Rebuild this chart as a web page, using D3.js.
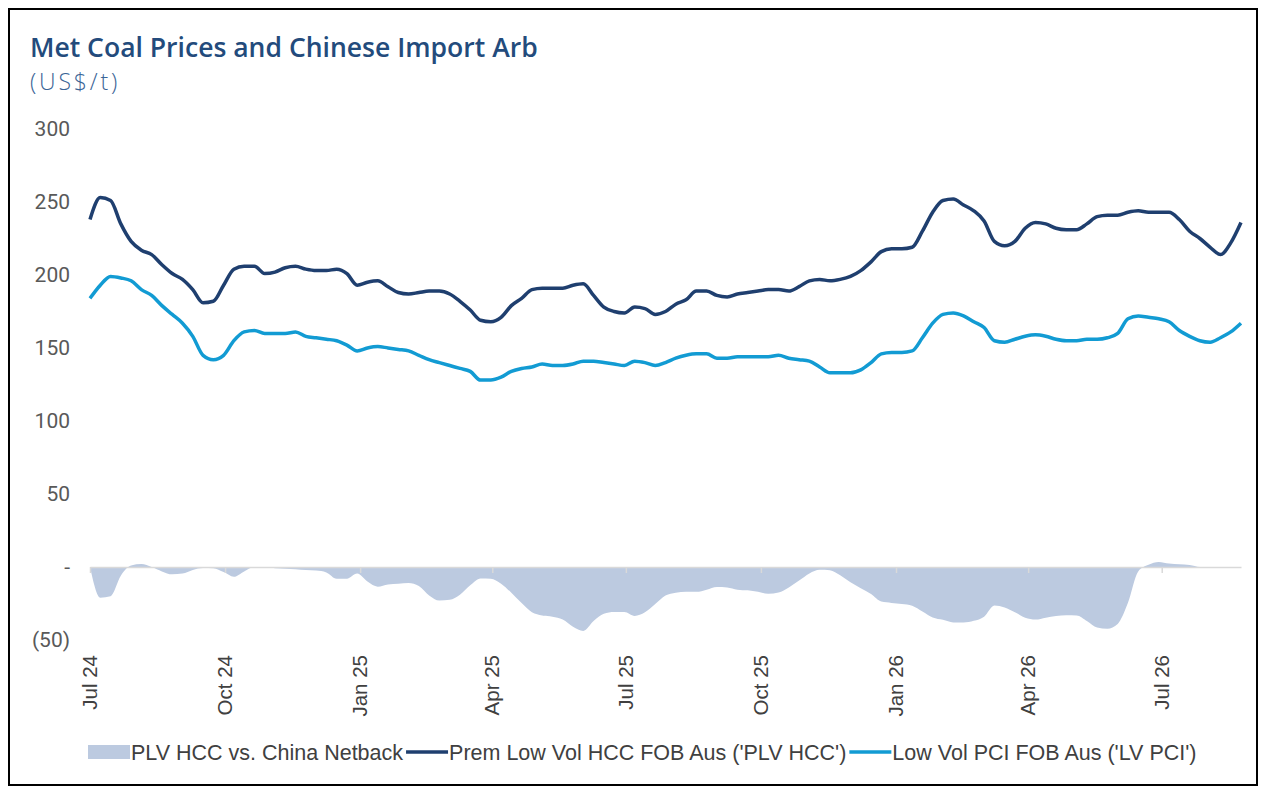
<!DOCTYPE html>
<html>
<head>
<meta charset="utf-8">
<script src="https://cdn.jsdelivr.net/npm/d3@7"></script>
<style>
  html, body { margin: 0; padding: 0; background: #fff; }
  svg { display: block; }
</style>
</head>
<body>
<svg id="chart" width="1266" height="794"></svg>
<script>
// Weekly observations starting the week of 1 Jul 2024
const startDate = new Date(2024, 6, 1);
const weeks = 113;
const dates = d3.range(weeks).map(i => d3.timeDay.offset(startDate, i * 7));

const plvHcc = [
  238, 253, 251, 235, 223, 217, 214, 207, 201, 197, 190, 181, 182, 193, 204, 206,
  206, 201, 202, 205, 206, 204, 203, 203, 204, 201, 193, 195, 196, 192, 188, 187,
  188, 189, 189, 187, 182, 176, 169, 168, 171, 179, 184, 190, 191, 191, 191, 193,
  194, 186, 178, 175, 174, 178, 177, 173, 175, 180, 183, 189, 189, 186, 185, 187,
  188, 189, 190, 190, 189, 192, 196, 197, 196, 197, 199, 203, 209, 216, 218, 218,
  219, 230, 243, 251, 252, 248, 244, 237, 223, 220, 223, 232, 236, 235, 232, 231,
  231, 235, 240, 241, 241, 243, 244, 243, 243, 243, 238, 230, 225, 219, 214, 222,
  236
];

const lvPci = [
  184, 193, 199, 198, 196, 190, 186, 179, 173, 167, 158, 145, 142, 145, 155, 161,
  162, 160, 160, 160, 161, 158, 157, 156, 155, 152, 148, 150, 151, 150, 149, 148,
  145, 142, 140, 138, 136, 134, 128, 128, 130, 134, 136, 137, 139, 138, 138, 139,
  141, 141, 140, 139, 138, 141, 140, 138, 140, 143, 145, 146, 146, 143, 143, 144,
  144, 144, 144, 145, 143, 142, 141, 137, 133, 133, 133, 135, 140, 146, 147, 147,
  148, 157, 167, 173, 174, 172, 168, 164, 155, 154, 156, 158, 159, 158, 156, 155,
  155, 156, 156, 157, 160, 170, 172, 171, 170, 168, 162, 158, 155, 154, 157, 161,
  167
];

const netback = [
  0, -21, -20, -6, 1, 2, 0, -3, -5, -4.5, -2, -0.7, -0.8, -3.5, -6.7, -3,
  0, 0, -0.8, -1.2, -1.5, -2.1, -2.4, -3.7, -8, -8, -4.5, -10, -13.5, -12, -11.5, -11,
  -13, -19.5, -23, -22.5, -19, -12.5, -7.8, -8, -11.4, -17.6, -24.7, -31, -33.2, -34, -36, -41,
  -43.8, -37, -32, -30.8, -30.8, -33.5, -31, -25.3, -19.5, -17.6, -17, -17, -15.5, -13.7, -14, -15.5,
  -16, -17, -18.3, -17.5, -14, -9.3, -4.4, -1.9, -2.2, -5.7, -10.5, -14.6, -18.5, -23.7, -24.6, -25.3,
  -26.5, -30.5, -34.6, -36.2, -38, -38, -36.8, -34, -26.3, -27.7, -31, -34.8, -36, -34.7, -33.6, -33.1,
  -33.2, -37, -41.5, -42.3, -39, -24.5, -3, 1.5, 3.5, 2.4, 1.8, 1.3, 0, 0, 0, 0,
  0
];

const yTicks = [300, 250, 200, 150, 100, 50, 0, -50];
const quarterTicks = [
  new Date(2024, 6, 1), new Date(2024, 9, 1), new Date(2025, 0, 1), new Date(2025, 3, 1),
  new Date(2025, 6, 1), new Date(2025, 9, 1), new Date(2026, 0, 1), new Date(2026, 3, 1),
  new Date(2026, 6, 1)
];

const seriesNames = [
  "PLV HCC vs. China Netback",
  "Prem Low Vol HCC FOB Aus ('PLV HCC')",
  "Low Vol PCI FOB Aus ('LV PCI')"
];

const colors = { area: "#bccae0", plv: "#1f3f6f", pci: "#129bd3", grid: "#d9d9d9" };

const data = dates.map((d, i) => ({ date: d, plv: plvHcc[i], pci: lvPci[i], net: netback[i] }));

// Layout
const width = 1266;
const height = 794;
const margin = { top: 129, right: 25, bottom: 154, left: 90 };

const svg = d3.select("#chart");

// Frame
svg.append("rect")
  .attr("x", 9).attr("y", 9)
  .attr("width", width - 18).attr("height", height - 18)
  .attr("fill", "none").attr("stroke", "#000").attr("stroke-width", 2);

// size a text so it spans a target width
function fitWidth(sel, target) {
  const size = +sel.attr("font-size");
  const w = sel.node().getComputedTextLength();
  sel.attr("font-size", size * target / w);
}

// Title
const title = svg.append("text")
  .attr("x", 30).attr("y", 57)
  .attr("font-family", "'Open Sans', sans-serif").attr("font-weight", 600)
  .attr("font-size", 24).attr("fill", "#234b7c")
  .text("Met Coal Prices and Chinese Import Arb");
fitWidth(title, 508);

const subtitle = svg.append("text")
  .attr("x", 30).attr("y", 90)
  .attr("font-family", "'Open Sans', sans-serif").attr("font-weight", 300)
  .attr("font-size", 23).attr("fill", "#3a6496")
  .text("(US$/t)");
const subW = subtitle.node().getComputedTextLength();
subtitle.attr("letter-spacing", (90 - subW) / 7);

// Scales
const x = d3.scaleTime()
  .domain([dates[0], dates[dates.length - 1]])
  .range([margin.left, width - margin.right]);

const y = d3.scaleLinear()
  .domain([-50, 300])
  .range([height - margin.bottom, margin.top]);

const fmt = v => v === 0 ? "-" : v < 0 ? `(${Math.abs(v)})` : `${v}`;

// Y axis labels (no axis line)
const yAxis = d3.axisLeft(y).tickValues(yTicks).tickFormat(fmt).tickSize(0).tickPadding(0);
const yG = svg.append("g")
  .attr("transform", `translate(${margin.left - 20}, 0)`)
  .call(yAxis);
yG.select(".domain").remove();
yG.selectAll("text")
  .attr("font-family", "Roboto, sans-serif").attr("font-size", 21).attr("fill", "#595959");

// Area for netback spread
const area = d3.area()
  .x(d => x(d.date))
  .y0(y(0))
  .y1(d => y(d.net))
  .curve(d3.curveMonotoneX);

svg.append("path")
  .datum(data)
  .attr("d", area)
  .attr("fill", colors.area);

// X axis on zero line
const xAxis = d3.axisBottom(x)
  .tickValues(quarterTicks)
  .tickFormat(d3.timeFormat("%b %y"))
  .tickSize(6)
  .tickSizeOuter(0);

const xG = svg.append("g")
  .attr("transform", `translate(0, ${y(0)})`)
  .call(xAxis);
xG.select(".domain").attr("stroke", colors.grid).attr("stroke-width", 1.5);
xG.selectAll(".tick line").attr("stroke", colors.grid).attr("stroke-width", 1.5);
xG.selectAll("text").remove();

// Rotated date labels below the plot
const labelG = svg.append("g").attr("transform", `translate(0, ${height - margin.bottom + 15})`);
labelG.selectAll("text")
  .data(quarterTicks)
  .enter()
  .append("text")
  .attr("transform", d => `translate(${x(d)}, 0) rotate(-90)`)
  .attr("dy", "0.35em")
  .attr("text-anchor", "end")
  .attr("font-family", "'Liberation Sans', Arial, sans-serif")
  .attr("font-size", 20.5)
  .attr("fill", "#404040")
  .text(d3.timeFormat("%b %y"));

// Price lines
const linePlv = d3.line().x(d => x(d.date)).y(d => y(d.plv)).curve(d3.curveMonotoneX);
const linePci = d3.line().x(d => x(d.date)).y(d => y(d.pci)).curve(d3.curveMonotoneX);

svg.append("path").datum(data).attr("d", linePci)
  .attr("fill", "none").attr("stroke", colors.pci).attr("stroke-width", 3.5)
  .attr("stroke-linejoin", "round");

svg.append("path").datum(data).attr("d", linePlv)
  .attr("fill", "none").attr("stroke", colors.plv).attr("stroke-width", 3.5)
  .attr("stroke-linejoin", "round");

// Legend
const legend = svg.append("g").attr("transform", "translate(88, 752)");
const legendItems = [
  { name: seriesNames[0], type: "area", color: colors.area },
  { name: seriesNames[1], type: "line", color: colors.plv },
  { name: seriesNames[2], type: "line", color: colors.pci }
];

let lx = 0;
legendItems.forEach(item => {
  if (item.type === "area") {
    legend.append("rect")
      .attr("x", lx).attr("y", -7).attr("width", 42).attr("height", 14)
      .attr("fill", item.color);
  } else {
    legend.append("line")
      .attr("x1", lx).attr("x2", lx + 42).attr("y1", 0).attr("y2", 0)
      .attr("stroke", item.color).attr("stroke-width", 3.5);
  }
  const t = legend.append("text")
    .attr("x", lx + 43).attr("y", 0).attr("dy", "0.35em")
    .attr("font-family", "'Liberation Sans', Arial, sans-serif")
    .attr("font-size", 21.5).attr("fill", "#404040")
    .text(item.name);
  lx += 43 + t.node().getComputedTextLength() + 3;
});
</script>
</body>
</html>
